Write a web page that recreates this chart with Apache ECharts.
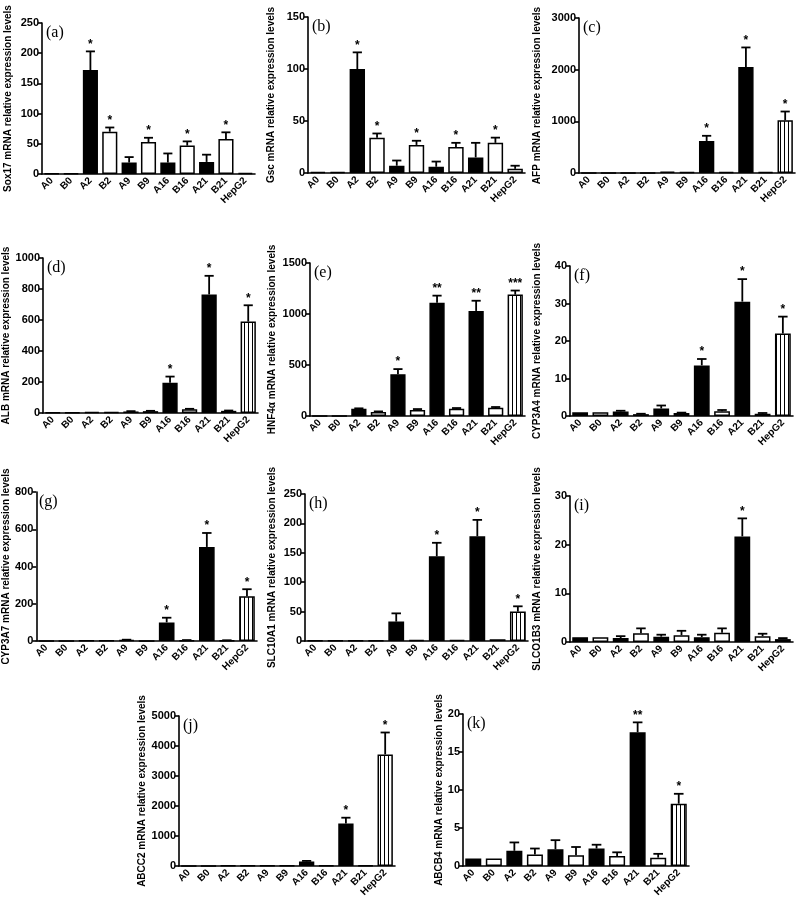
<!DOCTYPE html>
<html>
<head>
<meta charset="utf-8">
<script src="https://cdn.jsdelivr.net/npm/echarts@6/dist/echarts.min.js"></script>
<style>
  html, body { margin: 0; padding: 0; background: #fff; }
  #main { width: 800px; height: 903px; }
</style>
</head>
<body>
<div id="main"></div>
<script>
var categories = ['A0', 'B0', 'A2', 'B2', 'A9', 'B9', 'A16', 'B16', 'A21', 'B21', 'HepG2'];

// mean values, top of error bar, significance marks
var sox17Mean  = [1, 1, 172, 70, 19, 53, 19, 47, 20, 58, 2];
var sox17Upper = [1, 1, 203, 77, 28, 60, 34, 54, 32, 69, 2];
var sox17Stars = ['', '', '*', '*', '', '*', '', '*', '', '*', ''];

var gscMean  = [1, 1, 100, 34, 7, 27, 6, 25, 15, 29, 4];
var gscUpper = [1, 1, 116, 38, 12, 31, 11, 29, 29, 34, 7];
var gscStars = ['', '', '*', '*', '', '*', '', '*', '', '*', ''];

var afpMean  = [0, 0, 0, 0, 25, 15, 620, 20, 2050, 20, 1020];
var afpUpper = [0, 0, 0, 0, 25, 15, 720, 20, 2430, 20, 1190];
var afpStars = ['', '', '', '', '', '', '*', '', '*', '', '*'];

var albMean  = [3, 3, 8, 5, 10, 12, 195, 25, 765, 14, 590];
var albUpper = [3, 3, 8, 5, 12, 14, 235, 27, 885, 16, 695];
var albStars = ['', '', '', '', '', '', '*', '', '*', '', '*'];

var hnfMean  = [0, 0, 70, 40, 410, 60, 1110, 70, 1030, 80, 1190];
var hnfUpper = [0, 0, 75, 45, 460, 68, 1180, 78, 1130, 88, 1230];
var hnfStars = ['', '', '', '', '*', '', '**', '', '**', '', '***'];

var cyp3a4Mean  = [1, 1, 1.2, 0.5, 2, 0.8, 13.5, 1.3, 30.5, 0.6, 22];
var cyp3a4Upper = [1, 1, 1.4, 0.6, 2.8, 0.9, 15.2, 1.6, 36.5, 0.8, 26.5];
var cyp3a4Stars = ['', '', '', '', '', '', '*', '', '*', '', '*'];

var cyp3a7Mean  = [1, 1, 2, 3, 5, 0, 100, 4, 505, 3, 240];
var cyp3a7Upper = [1, 1, 2, 3, 7, 0, 125, 5, 580, 4, 278];
var cyp3a7Stars = ['', '', '', '', '', '', '*', '', '*', '', '*'];

var slc10Mean  = [1, 1, 1, 1, 33, 2, 144, 2, 178, 3, 50];
var slc10Upper = [1, 1, 1, 1, 47, 2, 167, 2, 206, 3, 59];
var slc10Stars = ['', '', '', '', '', '', '*', '', '*', '', '*'];

var slco1b3Mean  = [1, 1, 0.8, 1.8, 1.1, 1.4, 1, 1.9, 21.7, 1.2, 0.6];
var slco1b3Upper = [1, 1, 1.2, 2.8, 1.5, 2.3, 1.5, 2.8, 25.4, 1.7, 0.8];
var slco1b3Stars = ['', '', '', '', '', '', '', '', '*', '', ''];

var abcc2Mean  = [0, 0, 10, 10, 10, 10, 150, 20, 1420, 20, 3720];
var abcc2Upper = [0, 0, 10, 10, 10, 10, 170, 20, 1610, 20, 4450];
var abcc2Stars = ['', '', '', '', '', '', '', '', '*', '', '*'];

var abcb4Mean  = [1, 1, 2, 1.5, 2.2, 1.4, 2.3, 1.3, 17.6, 1.1, 8.2];
var abcb4Upper = [1, 1, 3.1, 2.3, 3.4, 2.5, 2.8, 1.8, 18.9, 1.6, 9.5];
var abcb4Stars = ['', '', '', '', '', '', '', '', '**', '', '*'];

var panels = [
    {tag: '(a)', name: 'Sox17 mRNA relative expression levels', mean: sox17Mean, upper: sox17Upper, stars: sox17Stars, max: 250, interval: 50, striped: false,
        grid: {left: 42, top: 23, width: 213, height: 151}, gap: 29},
    {tag: '(b)', name: 'Gsc mRNA relative expression levels', mean: gscMean, upper: gscUpper, stars: gscStars, max: 150, interval: 50, striped: false,
        grid: {left: 308, top: 17, width: 217, height: 156}, gap: 32},
    {tag: '(c)', name: 'AFP mRNA relative expression levels', mean: afpMean, upper: afpUpper, stars: afpStars, max: 3000, interval: 1000, striped: true,
        grid: {left: 579, top: 18, width: 216, height: 155}, gap: 37},
    {tag: '(d)', name: 'ALB mRNA relative expression levels', mean: albMean, upper: albUpper, stars: albStars, max: 1000, interval: 200, striped: true,
        grid: {left: 43, top: 258, width: 215, height: 155}, gap: 31},
    {tag: '(e)', name: 'HNF4\u03b1 mRNA relative expression levels', mean: hnfMean, upper: hnfUpper, stars: hnfStars, max: 1500, interval: 500, striped: true,
        grid: {left: 310, top: 263, width: 215, height: 153}, gap: 33},
    {tag: '(f)', name: 'CYP3A4 mRNA relative expression levels', mean: cyp3a4Mean, upper: cyp3a4Upper, stars: cyp3a4Stars, max: 40, interval: 10, striped: true,
        grid: {left: 570, top: 266, width: 223, height: 150}, gap: 28},
    {tag: '(g)', name: 'CYP3A7 mRNA relative expression levels', mean: cyp3a7Mean, upper: cyp3a7Upper, stars: cyp3a7Stars, max: 800, interval: 200, striped: true,
        grid: {left: 35, top: 492, width: 222, height: 149}, gap: 23},
    {tag: '(h)', name: 'SLC10A1 mRNA relative expression levels', mean: slc10Mean, upper: slc10Upper, stars: slc10Stars, max: 250, interval: 50, striped: true,
        grid: {left: 305, top: 494, width: 223, height: 147}, gap: 28},
    {tag: '(i)', name: 'SLCO1B3 mRNA relative expression levels', mean: slco1b3Mean, upper: slco1b3Upper, stars: slco1b3Stars, max: 30, interval: 10, striped: false,
        grid: {left: 570, top: 496, width: 223, height: 146}, gap: 28},
    {tag: '(j)', name: 'ABCC2 mRNA relative expression levels', mean: abcc2Mean, upper: abcc2Upper, stars: abcc2Stars, max: 5000, interval: 1000, striped: true,
        grid: {left: 179, top: 716, width: 216, height: 150}, gap: 27},
    {tag: '(k)', name: 'ABCB4 mRNA relative expression levels', mean: abcb4Mean, upper: abcb4Upper, stars: abcb4Stars, max: 20, interval: 5, striped: true,
        grid: {left: 463, top: 714, width: 226, height: 152}, gap: 16}
];

// vertical line pattern for HepG2 bars
var stripe = document.createElement('canvas');
stripe.width = 4;
stripe.height = 4;
var sctx = stripe.getContext('2d');
sctx.fillStyle = '#fff';
sctx.fillRect(0, 0, 4, 4);
sctx.fillStyle = '#000';
sctx.fillRect(0, 0, 1, 4);

var labelFont = 'Liberation Sans';

var grids = [], xAxes = [], yAxes = [], series = [], graphics = [];

panels.forEach(function (p, k) {
    grids.push(p.grid);

    xAxes.push({
        type: 'category',
        gridIndex: k,
        data: categories,
        axisLine: {lineStyle: {color: '#000', width: 1.6}},
        axisTick: {show: false},
        axisLabel: {
            rotate: 45, margin: 5, color: '#000', fontSize: 10, fontWeight: 700,
            fontFamily: labelFont, interval: 0
        }
    });

    yAxes.push({
        type: 'value',
        gridIndex: k,
        min: 0,
        max: p.max,
        interval: p.interval,
        name: p.name,
        nameLocation: 'middle',
        nameGap: p.gap,
        nameTextStyle: {color: '#000', fontSize: 10, fontWeight: 700, fontFamily: labelFont},
        axisLine: {show: true, lineStyle: {color: '#000', width: 1.6}},
        axisTick: {show: true, length: 4, lineStyle: {color: '#000', width: 1.6}},
        axisLabel: {
            color: '#000', fontSize: 11, fontWeight: 700, fontFamily: labelFont, margin: 3,
            formatter: function (v) { return String(v); }
        },
        splitLine: {show: false}
    });

    var barData = p.mean.map(function (v, i) {
        var c = categories[i];
        var fill = '#fff';
        if (c.charAt(0) === 'A') fill = '#000';
        if (c === 'HepG2' && p.striped) fill = {image: stripe, repeat: 'repeat'};
        return {value: v, itemStyle: {color: fill}};
    });

    series.push({
        type: 'bar',
        xAxisIndex: k,
        yAxisIndex: k,
        data: barData,
        barWidth: '78%',
        itemStyle: {borderColor: '#000', borderWidth: 1.5},
        silent: true,
        z: 2
    });

    var errData = p.mean.map(function (v, i) {
        return [i, p.upper[i], v];
    });

    series.push({
        type: 'custom',
        xAxisIndex: k,
        yAxisIndex: k,
        data: errData,
        z: 3,
        silent: true,
        renderItem: function (params, api) {
            var i = params.dataIndex;
            var top = api.coord([api.value(0), api.value(1)]);
            var base = api.coord([api.value(0), api.value(2)]);
            var half = api.size([1, 0])[0] * 0.78 * 0.3;
            var children = [];
            if (api.value(1) > api.value(2)) {
                children.push({
                    type: 'line',
                    shape: {x1: top[0], y1: base[1], x2: top[0], y2: top[1]},
                    style: {stroke: '#000', lineWidth: 1.8}
                });
                children.push({
                    type: 'line',
                    shape: {x1: top[0] - half, y1: top[1], x2: top[0] + half, y2: top[1]},
                    style: {stroke: '#000', lineWidth: 1.8}
                });
            }
            if (p.stars[i]) {
                children.push({
                    type: 'text',
                    style: {
                        x: top[0], y: top[1] - 1, text: p.stars[i],
                        align: 'center', verticalAlign: 'bottom',
                        fill: '#000', fontSize: 12, fontWeight: 700, fontFamily: labelFont
                    }
                });
            }
            return {type: 'group', children: children};
        }
    });

    graphics.push({
        type: 'text',
        left: p.grid.left + 4,
        top: p.grid.top + 2,
        style: {text: p.tag, fill: '#000', fontSize: 16, fontFamily: 'Liberation Serif'}
    });
});

var myChart = echarts.init(document.getElementById('main'), null, {renderer: 'canvas'});

var option = {
    backgroundColor: '#fff',
    animation: false,
    grid: grids,
    xAxis: xAxes,
    yAxis: yAxes,
    series: series,
    graphic: graphics
};

myChart.setOption(option);
</script>
</body>
</html>
